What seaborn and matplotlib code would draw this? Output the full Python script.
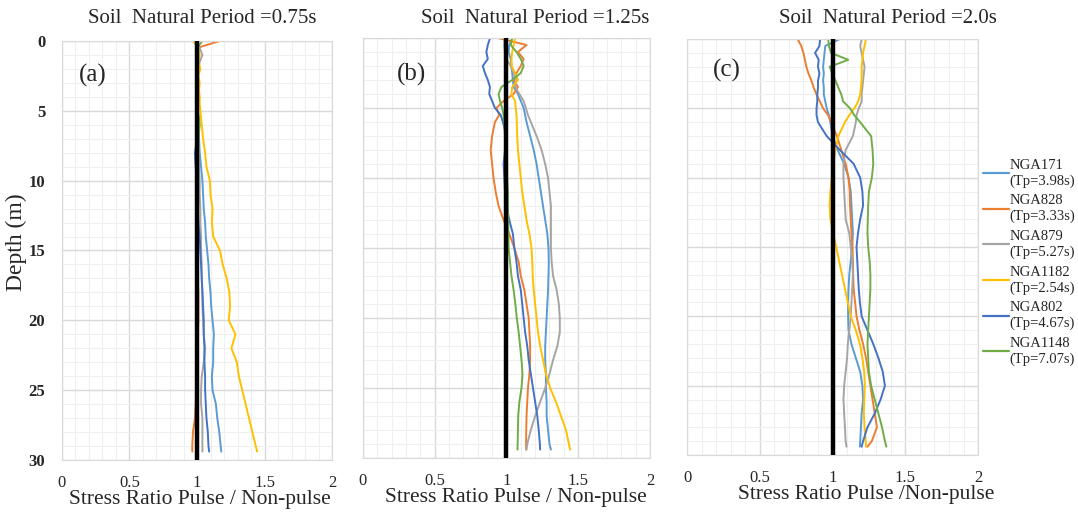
import numpy as np
import pandas as pd
import matplotlib
matplotlib.use("Agg")
import matplotlib.pyplot as plt
import seaborn as sns

# depth points (m) shared by all records
depth = [0, 0.5, 1, 1.5, 2, 2.5, 3, 3.5, 4, 4.5, 5, 5.5, 6, 7, 8, 9, 10, 11, 12,
         13, 14, 15, 16, 17, 18, 19, 20, 21, 22, 23, 24, 25, 26, 27, 28, 29, 29.4]

records = ["NGA171", "NGA828", "NGA879", "NGA1182", "NGA802", "NGA1148"]
tp = ["3.98s", "3.33s", "5.27s", "2.54s", "4.67s", "7.07s"]
colors = ["#5B9BD5", "#ED7D31", "#A5A5A5", "#FFC000", "#4472C4", "#70AD47"]

titles = ["Soil  Natural Period =0.75s", "Soil  Natural Period =1.25s", "Soil  Natural Period =2.0s"]
panel_tags = ["(a)", "(b)", "(c)"]
xlabels = ["Stress Ratio Pulse / Non-pulse", "Stress Ratio Pulse / Non-pulse",
           "Stress Ratio Pulse /Non-pulse"]

# (a) Tsoil = 0.75 s
a_171 = [1.0, 1.0, 1.0, 1.0, 1.0, 1.0, 1.0, 1.0, 1.0, 1.0, 1.0, 1.01, 1.01, 1.015, 1.02, 1.03, 1.04, 1.045, 1.05,
         1.06, 1.065, 1.075, 1.085, 1.09, 1.1, 1.105, 1.115, 1.125, 1.12, 1.12, 1.11, 1.115, 1.14, 1.15, 1.165, 1.175, 1.18]
a_828 = [1.17, 1.0, 1.0, 1.005, 1.0, 1.0, 1.0, 1.0, 1.0, 1.0, 1.0, 1.0, 1.005, 1.005, 1.0, 1.0, 1.0, 1.005, 1.005,
         1.005, 1.005, 1.005, 1.005, 1.005, 1.01, 1.01, 1.01, 1.005, 1.005, 1.0, 1.0, 0.995, 0.99, 0.985, 0.97, 0.965, 0.965]
a_879 = [1.0, 1.02, 1.04, 1.02, 1.01, 1.0, 1.0, 1.0, 1.0, 1.0, 1.005, 1.005, 1.01, 1.01, 1.015, 1.015, 1.02, 1.02, 1.025,
         1.025, 1.03, 1.03, 1.035, 1.035, 1.04, 1.04, 1.045, 1.05, 1.06, 1.05, 1.035, 1.03, 1.03, 1.04, 1.04, 1.04, 1.04]
a_1182 = [0.97, 1.01, 1.02, 1.01, 1.025, 1.01, 1.02, 1.015, 1.02, 1.02, 1.025, 1.03, 1.035, 1.045, 1.06, 1.07, 1.095, 1.1, 1.115,
          1.11, 1.12, 1.17, 1.19, 1.22, 1.24, 1.245, 1.235, 1.285, 1.255, 1.295, 1.31, 1.335, 1.36, 1.385, 1.41, 1.435, 1.445]
a_802 = [1.0, 1.0, 1.0, 1.0, 1.0, 1.0, 1.0, 1.0, 1.0, 1.0, 1.0, 1.0, 1.0, 1.0, 0.985, 0.99, 1.0, 1.0, 1.005,
         1.01, 1.02, 1.025, 1.03, 1.035, 1.04, 1.045, 1.05, 1.05, 1.055, 1.055, 1.06, 1.06, 1.065, 1.07, 1.08, 1.085, 1.09]
a_1148 = [1.04, 1.0, 1.01, 1.0, 1.0, 0.995, 1.0, 1.0, 1.0, 1.0, 1.005, 1.015, 1.02, 1.01, 1.005, 1.005, 1.005, 1.005, 1.0,
          1.0, 1.0, 1.0, 1.0, 1.0, 1.0, 1.0, 1.0, 1.0, 1.0, 1.0, 0.995, 0.995, 0.995, 1.0, 1.0, 1.0, 1.0]

# (b) Tsoil = 1.25 s
b_171 = [1.04, 1.02, 1.015, 1.03, 1.035, 1.04, 1.045, 1.05, 1.08, 1.1, 1.12, 1.13, 1.14, 1.165, 1.19, 1.21, 1.225, 1.24, 1.255,
         1.27, 1.285, 1.293, 1.295, 1.293, 1.29, 1.285, 1.28, 1.275, 1.27, 1.27, 1.275, 1.275, 1.28, 1.28, 1.29, 1.3, 1.31]
b_828 = [0.94, 1.14, 1.08, 1.12, 1.1, 1.07, 1.05, 1.08, 1.05, 0.98, 0.93, 0.95, 0.92, 0.9, 0.89, 0.9, 0.91, 0.925, 0.945,
         0.98, 1.02, 1.055, 1.085, 1.1, 1.125, 1.14, 1.155, 1.16, 1.165, 1.165, 1.16, 1.15, 1.145, 1.14, 1.138, 1.137, 1.137]
b_879 = [0.99, 0.985, 0.99, 1.0, 1.03, 1.05, 1.07, 1.06, 1.09, 1.12, 1.135, 1.15, 1.17, 1.21, 1.245, 1.27, 1.29, 1.3, 1.31,
         1.31, 1.31, 1.31, 1.315, 1.325, 1.35, 1.365, 1.372, 1.372, 1.355, 1.325, 1.3, 1.27, 1.235, 1.2, 1.17, 1.145, 1.14]
b_1182 = [1.06, 1.05, 1.04, 1.035, 1.037, 1.06, 1.08, 1.04, 1.035, 1.06, 1.065, 1.07, 1.072, 1.075, 1.08, 1.09, 1.1, 1.11, 1.125,
          1.14, 1.16, 1.175, 1.18, 1.183, 1.19, 1.2, 1.21, 1.22, 1.235, 1.255, 1.275, 1.305, 1.345, 1.38, 1.415, 1.435, 1.444]
b_802 = [0.886, 0.87, 0.86, 0.87, 0.835, 0.85, 0.87, 0.885, 0.88, 0.9, 0.92, 0.96, 0.975, 1.0, 0.99, 0.98, 0.985, 0.99, 1.0,
         1.02, 1.045, 1.055, 1.07, 1.08, 1.1, 1.11, 1.12, 1.13, 1.145, 1.155, 1.17, 1.185, 1.2, 1.215, 1.225, 1.233, 1.235]
b_1148 = [1.04, 1.03, 1.07, 1.1, 1.12, 1.1, 1.04, 0.965, 0.945, 0.955, 0.97, 0.98, 0.985, 0.99, 1.0, 1.005, 1.005, 1.01, 1.01,
          1.012, 1.014, 1.015, 1.025, 1.035, 1.05, 1.062, 1.072, 1.085, 1.095, 1.105, 1.112, 1.105, 1.09, 1.082, 1.08, 1.078, 1.077]

# (c) Tsoil = 2.0 s
c_171 = [1.05, 0.95, 0.945, 0.94, 0.935, 0.94, 0.935, 0.94, 0.94, 0.95, 0.96, 0.975, 0.985, 1.0, 1.035, 1.08, 1.11, 1.125, 1.13,
         1.135, 1.14, 1.135, 1.125, 1.115, 1.11, 1.107, 1.107, 1.11, 1.13, 1.16, 1.19, 1.205, 1.21, 1.2, 1.195, 1.19, 1.188]
c_828 = [0.76, 0.785, 0.8, 0.81, 0.82, 0.835, 0.855, 0.87, 0.89, 0.913, 0.935, 0.97, 0.99, 1.03, 1.06, 1.09, 1.11, 1.118, 1.12,
         1.125, 1.13, 1.137, 1.14, 1.142, 1.145, 1.155, 1.165, 1.185, 1.21, 1.23, 1.245, 1.26, 1.275, 1.29, 1.305, 1.27, 1.24]
c_879 = [1.2, 1.19, 1.2, 1.21, 1.22, 1.215, 1.21, 1.205, 1.2, 1.2, 1.18, 1.165, 1.16, 1.14, 1.09, 1.075, 1.075, 1.08, 1.085,
         1.09, 1.115, 1.125, 1.135, 1.14, 1.135, 1.13, 1.125, 1.115, 1.105, 1.1, 1.09, 1.08, 1.075, 1.08, 1.085, 1.09, 1.096]
c_1182 = [1.23, 1.22, 1.21, 1.205, 1.2, 1.2, 1.2, 1.195, 1.19, 1.176, 1.15, 1.115, 1.085, 1.04, 1.02, 1.005, 0.995, 0.985, 0.98,
          0.985, 1.005, 1.025, 1.045, 1.065, 1.085, 1.105, 1.125, 1.16, 1.188, 1.205, 1.218, 1.222, 1.218, 1.215, 1.22, 1.228, 1.23]
c_802 = [0.915, 0.91, 0.88, 0.905, 0.9, 0.91, 0.9, 0.9, 0.895, 0.895, 0.89, 0.89, 0.9, 0.96, 1.05, 1.145, 1.19, 1.205, 1.21,
         1.19, 1.175, 1.165, 1.17, 1.175, 1.18, 1.188, 1.2, 1.24, 1.28, 1.315, 1.345, 1.36, 1.33, 1.29, 1.24, 1.21, 1.2]
c_1148 = [0.97, 0.975, 0.99, 1.108, 0.98, 1.0, 1.02, 1.04, 1.06, 1.073, 1.12, 1.15, 1.19, 1.265, 1.275, 1.28, 1.27, 1.25, 1.245,
          1.242, 1.24, 1.245, 1.255, 1.26, 1.26, 1.255, 1.25, 1.245, 1.24, 1.245, 1.25, 1.265, 1.29, 1.315, 1.34, 1.36, 1.37]

panels = [
    [a_171, a_828, a_879, a_1182, a_802, a_1148],
    [b_171, b_828, b_879, b_1182, b_802, b_1148],
    [c_171, c_828, c_879, c_1182, c_802, c_1148],
]

rows = []
for p, series in enumerate(panels):
    for rec, vals in zip(records, series):
        for d, v in zip(depth, vals):
            rows.append({"panel": p, "record": rec, "depth": d, "ratio": v})
df = pd.DataFrame(rows)

sns.set_style("white")
plt.rcParams["font.family"] = ["Liberation Serif", "DejaVu Serif"]

fig = plt.figure(figsize=(10.78, 5.12), dpi=100)
boxes = [
    [0.0575, 0.1016, 0.2505, 0.8184],
    [0.3367, 0.1055, 0.2662, 0.8203],
    [0.6373, 0.1113, 0.2700, 0.8125],
]
title_x = [202 / 1078, 535 / 1078, 888 / 1078]
xlabel_x = [0.511, 0.533, 0.615]
tag_pos = [(0.063, 0.917), (0.118, 0.912), (0.089, 0.925)]

axes = []
for i in range(3):
    ax = fig.add_axes(boxes[i])
    sub = df[df["panel"] == i]
    sns.lineplot(data=sub, x="ratio", y="depth", hue="record", hue_order=records,
                 palette=colors, sort=False, estimator=None, lw=1.4, ax=ax,
                 legend=(i == 2))
    ax.axvline(1.0, color="black", lw=3.2, zorder=5)

    ax.set_xlim(0, 2)
    ax.set_ylim(30, 0)
    ax.set_xticks(np.arange(0, 2.01, 0.5))
    ax.set_xticklabels(["0", "0.5", "1", "1.5", "2"], fontsize=12)
    ax.set_xticks(np.arange(0, 2.01, 0.1), minor=True)
    ax.set_yticks(np.arange(0, 31, 5))
    ax.set_yticks(np.arange(0, 31, 1), minor=True)
    ax.grid(which="major", color="#D9D9D9", lw=1.0)
    ax.grid(which="minor", color="#EFEFEF", lw=0.8)
    ax.set_axisbelow(True)
    ax.tick_params(which="both", length=0)
    ax.tick_params(axis="x", pad=11)
    for s in ax.spines.values():
        s.set_color("#D9D9D9")

    if i == 0:
        ax.set_yticklabels([str(v) for v in range(0, 31, 5)], fontsize=12, fontweight="bold")
        ax.tick_params(axis="y", pad=12)
        ax.set_ylabel("Depth (m)", fontsize=17)
        ax.yaxis.set_label_coords(-0.128, 0.52)
    else:
        ax.set_yticklabels([])
        ax.set_ylabel("")

    ax.set_xlabel(xlabels[i], fontsize=15.5)
    ax.xaxis.set_label_coords(xlabel_x[i], -0.072)
    ax.text(tag_pos[i][0], tag_pos[i][1], panel_tags[i], transform=ax.transAxes,
            fontsize=18, ha="left", va="center")
    fig.text(title_x[i], 0.963, titles[i], fontsize=15, ha="center", va="center")
    axes.append(ax)

handles, _ = axes[2].get_legend_handles_labels()
axes[2].get_legend().remove()
for h in handles:
    h.set_linewidth(1.6)
labels = [f"{r}\n(Tp={t})" for r, t in zip(records, tp)]
leg = fig.legend(handles, labels, loc="upper left", bbox_to_anchor=(0.912, 0.69),
                 frameon=False, fontsize=10.5, handlelength=1.75, handletextpad=0.05,
                 labelspacing=0.45, borderaxespad=0, borderpad=0)
for t in leg.get_texts():
    t.set_linespacing(1.25)

fig.savefig("out.png", dpi=100)
